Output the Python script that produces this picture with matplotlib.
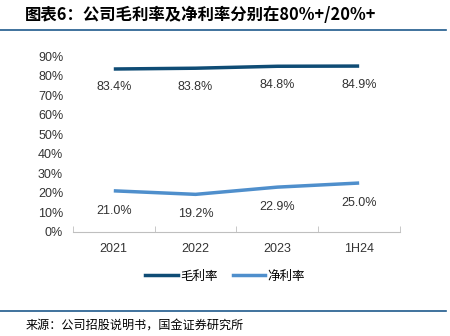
import matplotlib
matplotlib.use("Agg")
import matplotlib.pyplot as plt
from matplotlib.lines import Line2D
from matplotlib.ticker import FuncFormatter

plt.rcParams['font.family'] = ['Liberation Sans', 'Noto Sans CJK SC', 'DejaVu Sans']

periods = ["2021", "2022", "2023", "1H24"]
gross_margin = [83.4, 83.8, 84.8, 84.9]
net_margin = [21.0, 19.2, 22.9, 25.0]
series_names = ["毛利率", "净利率"]
title = "图表6：公司毛利率及净利率分别在80%+/20%+"
source = "来源：公司招股说明书，国金证券研究所"

dark = "#0f4c75"
light = "#4f8fcc"
text_c = "#333333"

fig = plt.figure(figsize=(4.5, 3.36), dpi=100)
ax = fig.add_axes([0.162, 0.310, 0.727, 0.523])

x = list(range(len(periods)))
ax.plot(x, gross_margin, color=dark, lw=2.5, solid_capstyle='butt')
ax.plot(x, net_margin, color=light, lw=2.5, solid_capstyle='butt')

# value labels under each point
for xi, v in zip(x, gross_margin):
    ax.annotate(f"{v:.1f}%", (xi, v), xytext=(0, -9), textcoords='offset points',
                ha='center', va='top', fontsize=9, color=text_c)
for xi, v in zip(x, net_margin):
    ax.annotate(f"{v:.1f}%", (xi, v), xytext=(0, -10), textcoords='offset points',
                ha='center', va='top', fontsize=9, color=text_c)

ax.set_xlim(-0.5, len(periods) - 0.5)
ax.set_ylim(0, 90)
ax.set_yticks(range(0, 91, 10))
ax.yaxis.set_major_formatter(FuncFormatter(lambda v, p: f"{v:.0f}%"))
ax.set_xticks(x)
ax.set_xticklabels(periods)
ax.set_xticks([i - 0.5 for i in range(len(periods) + 1)], minor=True)
ax.tick_params(axis='x', which='major', length=0, labelsize=9, colors=text_c, pad=8)
ax.tick_params(axis='x', which='minor', length=4, direction='in', color='#bfbfbf')
ax.tick_params(axis='y', length=0, labelsize=9, colors=text_c, pad=7)
for s in ['top', 'right', 'left']:
    ax.spines[s].set_visible(False)
ax.spines['bottom'].set_color('#bfbfbf')

handles = [Line2D([0], [0], color=dark, lw=2.5), Line2D([0], [0], color=light, lw=2.5)]
fig.legend(handles, series_names, loc='center', bbox_to_anchor=(0.5, 0.178), ncol=2,
           frameon=False, handlelength=2.6, handletextpad=0.2, columnspacing=1.2,
           prop={'family': ['Noto Sans CJK SC'], 'size': 9})

fig.text(0.056, 0.955, title, fontsize=11.8, fontweight='bold', style='italic',
         family=['Noto Sans CJK SC', 'DejaVu Sans'], va='center', ha='left', color='black')
fig.add_artist(Line2D([0.0, 0.99], [0.91, 0.91], color='#1f5a8c', lw=1.2))
fig.add_artist(Line2D([0.0, 0.99], [0.074, 0.074], color='#1f5a8c', lw=1.2))
fig.text(0.056, 0.032, source, fontsize=8.7, family=['Noto Sans CJK SC'],
         va='center', ha='left', color='black')

fig.savefig("out.png", dpi=100)
